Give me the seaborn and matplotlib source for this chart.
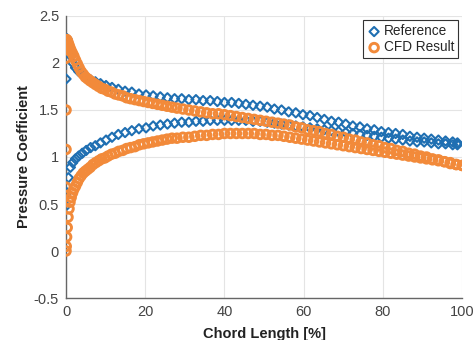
import matplotlib
matplotlib.use('Agg')
import matplotlib.pyplot as plt
import seaborn as sns
import pandas as pd

# ------------------------------------------------------------
# Data (x = chord length %, y = pressure coefficient)
# ------------------------------------------------------------
ref_x = [0.2, 0.6, 1.1, 1.7, 2.4, 3.2, 4.1, 5.1, 6.2, 7.4, 8.7, 10.1, 11.6, 13.2, 14.9,
         16.6, 18.4, 20.2, 22.0, 23.8, 25.6, 27.4, 29.2, 31.0, 32.8, 34.6, 36.4, 38.2,
         40.0, 41.8, 43.6, 45.4, 47.2, 49.0, 50.8, 52.6, 54.4, 56.2, 58.0, 59.8, 61.6,
         63.4, 65.2, 67.0, 68.8, 70.6, 72.4, 74.2, 76.0, 77.8, 79.6, 81.4, 83.2, 85.0,
         86.8, 88.6, 90.4, 92.2, 94.0, 95.8, 97.6, 98.8]
ref_upper = [2.26, 2.18, 2.08, 2.00, 1.95, 1.91, 1.88, 1.85, 1.82, 1.80, 1.78, 1.76, 1.74,
             1.72, 1.70, 1.69, 1.67, 1.66, 1.65, 1.64, 1.63, 1.62, 1.62, 1.61, 1.61, 1.60,
             1.60, 1.59, 1.58, 1.58, 1.57, 1.56, 1.55, 1.54, 1.53, 1.51, 1.50, 1.48, 1.47,
             1.45, 1.44, 1.42, 1.40, 1.38, 1.37, 1.35, 1.33, 1.32, 1.30, 1.29, 1.27, 1.26,
             1.25, 1.24, 1.22, 1.21, 1.20, 1.19, 1.18, 1.17, 1.16, 1.15]
ref_lower = [0.62, 0.78, 0.89, 0.94, 0.98, 1.01, 1.04, 1.07, 1.10, 1.12, 1.15, 1.18, 1.21,
             1.24, 1.26, 1.28, 1.30, 1.31, 1.33, 1.34, 1.35, 1.36, 1.37, 1.37, 1.38, 1.38,
             1.39, 1.39, 1.39, 1.39, 1.39, 1.39, 1.38, 1.38, 1.37, 1.36, 1.35, 1.34, 1.33,
             1.32, 1.31, 1.30, 1.29, 1.28, 1.27, 1.26, 1.25, 1.24, 1.23, 1.22, 1.21, 1.20,
             1.19, 1.18, 1.17, 1.16, 1.16, 1.15, 1.14, 1.14, 1.13, 1.13]
ref_le_x = [0.0, 0.0]
ref_le_y = [1.83, 0.48]

cfd_x = [0.0, 0.05, 0.15, 0.3, 0.5, 0.75, 1.0, 1.3, 1.65, 2.0, 2.4, 2.85, 3.3, 3.8, 4.35,
         4.9, 5.5, 6.1, 6.8, 7.5, 8.25, 9.0, 9.8, 10.6, 11.5, 12.4, 13.3, 14.3, 15.3, 16.3,
         17.4, 18.5, 19.6, 20.75, 21.9, 23.1, 24.3, 25.5, 26.75, 28.0, 29.5, 31.0, 32.5,
         34.0, 35.5, 37.0, 38.5, 40.0, 41.5, 43.0, 44.5, 46.0, 47.5, 49.0, 50.5, 52.0,
         53.5, 55.0, 56.5, 58.0, 59.5, 61.0, 62.5, 64.0, 65.5, 67.0, 68.5, 70.0, 71.5,
         73.0, 74.5, 76.0, 77.5, 79.0, 80.5, 82.0, 83.5, 85.0, 86.5, 88.0, 89.5, 91.0,
         92.5, 94.0, 95.5, 97.0, 98.5, 100.0]
cfd_upper = [2.18, 2.22, 2.25, 2.24, 2.22, 2.19, 2.16, 2.13, 2.10, 2.07, 2.03, 1.99, 1.95,
             1.91, 1.88, 1.85, 1.83, 1.81, 1.79, 1.77, 1.75, 1.73, 1.72, 1.70, 1.69, 1.67,
             1.66, 1.65, 1.63, 1.62, 1.61, 1.60, 1.59, 1.58, 1.57, 1.56, 1.55, 1.54, 1.53,
             1.52, 1.51, 1.50, 1.49, 1.48, 1.47, 1.46, 1.46, 1.45, 1.44, 1.43, 1.42, 1.41,
             1.40, 1.39, 1.38, 1.37, 1.36, 1.35, 1.34, 1.32, 1.31, 1.29, 1.28, 1.27, 1.25,
             1.24, 1.22, 1.21, 1.19, 1.18, 1.16, 1.15, 1.13, 1.12, 1.10, 1.09, 1.07, 1.06,
             1.04, 1.03, 1.01, 1.00, 0.98, 0.97, 0.95, 0.94, 0.92, 0.91]
cfd_lower = [0.00, 0.05, 0.15, 0.25, 0.36, 0.45, 0.52, 0.57, 0.62, 0.66, 0.69, 0.73, 0.77,
             0.80, 0.83, 0.85, 0.87, 0.89, 0.92, 0.94, 0.96, 0.98, 0.99, 1.01, 1.03, 1.04,
             1.06, 1.07, 1.09, 1.10, 1.11, 1.13, 1.14, 1.15, 1.16, 1.17, 1.18, 1.19, 1.20,
             1.20, 1.21, 1.21, 1.22, 1.23, 1.23, 1.24, 1.24, 1.25, 1.25, 1.25, 1.25, 1.25,
             1.25, 1.24, 1.24, 1.23, 1.23, 1.22, 1.21, 1.20, 1.19, 1.18, 1.17, 1.16, 1.15,
             1.14, 1.13, 1.12, 1.11, 1.10, 1.09, 1.08, 1.07, 1.06, 1.05, 1.04, 1.03, 1.02,
             1.01, 1.00, 0.99, 0.98, 0.97, 0.96, 0.95, 0.93, 0.92, 0.91]
cfd_le_x = [0.0, 0.0, 0.0, 0.0]
cfd_le_y = [2.05, 1.50, 1.08, 0.68]

x_ticks = [0, 20, 40, 60, 80, 100]
y_ticks = [-0.5, 0, 0.5, 1, 1.5, 2, 2.5]
y_tick_labels = ['-0.5', '0', '0.5', '1', '1.5', '2', '2.5']

BLUE = '#1f6fb2'
ORANGE = '#f28a3a'

ref_df = pd.DataFrame({'x': ref_x + ref_le_x + ref_x,
                       'y': ref_upper + ref_le_y + ref_lower})
cfd_df = pd.DataFrame({'x': cfd_x + cfd_le_x + cfd_x,
                       'y': cfd_upper + cfd_le_y + cfd_lower})

# ------------------------------------------------------------
# Plot
# ------------------------------------------------------------
sns.set_style('white')
plt.rcParams['font.family'] = ['Liberation Sans', 'DejaVu Sans']

fig = plt.figure(figsize=(4.75, 3.4), dpi=100)
ax = fig.add_axes([0.139, 0.1235, 0.834, 0.8295])

sns.scatterplot(data=ref_df, x='x', y='y', ax=ax, marker='D', s=22,
                color=BLUE, facecolor='none', edgecolor=BLUE, linewidth=1.5,
                label='Reference', zorder=3)
sns.scatterplot(data=cfd_df, x='x', y='y', ax=ax, marker='o', s=38,
                color=ORANGE, facecolor='none', edgecolor=ORANGE, linewidth=2.1,
                label='CFD Result', zorder=4)

ax.set_xlim(0, 100)
ax.set_ylim(-0.5, 2.5)
ax.set_xticks(x_ticks)
ax.set_yticks(y_ticks)
ax.set_yticklabels(y_tick_labels)
ax.grid(True, color='#e4e4e4', linewidth=0.8)
ax.set_axisbelow(True)

for side in ['top', 'right']:
    ax.spines[side].set_visible(False)
for side in ['left', 'bottom']:
    ax.spines[side].set_color('#666666')
    ax.spines[side].set_linewidth(1.0)
ax.tick_params(direction='in', length=4, width=0.8, color='#666666',
               labelcolor='#444444', labelsize=10.5, pad=5)

ax.set_xlabel('Chord Length [%]', fontsize=10.5, fontweight='bold', color='#222222', labelpad=6)
ax.set_ylabel('Pressure Coefficient', fontsize=10.5, fontweight='bold', color='#222222', labelpad=2)

leg = ax.legend(loc='upper right', fontsize=9.8, frameon=True, fancybox=False,
                framealpha=1, edgecolor='#333333', borderaxespad=0.3,
                handletextpad=0.2, borderpad=0.3, labelspacing=0.15, handlelength=1.0)
leg.get_frame().set_linewidth(0.8)

plt.savefig('out.png', dpi=100)
plt.close()
